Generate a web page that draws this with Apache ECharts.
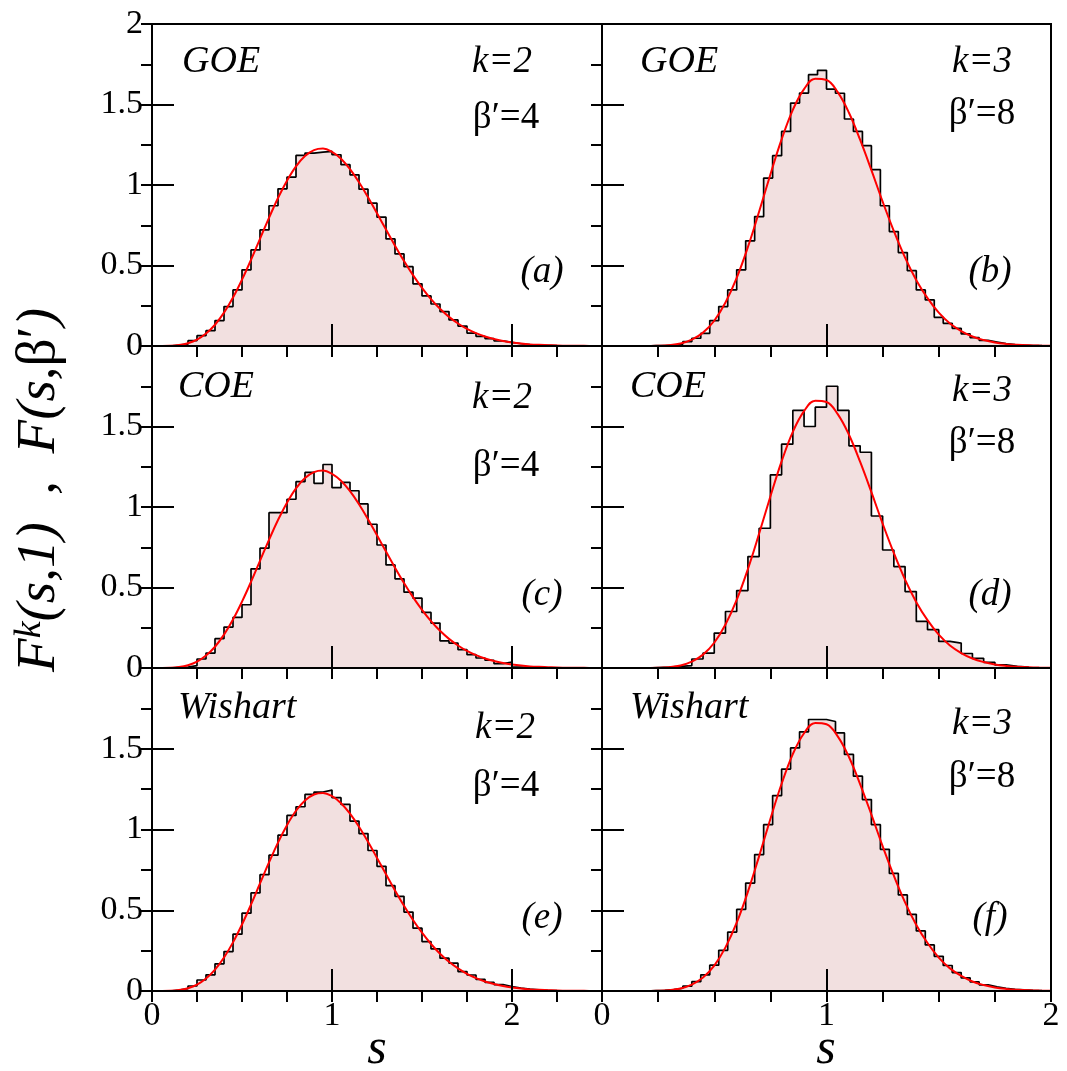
<!DOCTYPE html>
<html>
<head>
<meta charset="utf-8">
<script src="https://cdn.jsdelivr.net/npm/echarts@6/dist/echarts.min.js"></script>
<style>
  html, body { margin: 0; padding: 0; background: #fff; }
  #chart { width: 1067px; height: 1071px; }
</style>
</head>
<body>
<div id="chart"></div>
<script>
// histogram bins: first left edge, bin width, heights
const goeK2Start = 0.10, goeK2Width = 0.05;
const goeK2Hist = [0.005, 0.012, 0.033, 0.064, 0.095, 0.158, 0.245, 0.348, 0.473, 0.597, 0.721, 0.871, 0.976, 1.049,
  1.184, 1.198, 1.204, 1.209, 1.188, 1.126, 1.063, 0.974, 0.887, 0.800, 0.665, 0.572, 0.493, 0.386, 0.311, 0.261,
  0.214, 0.162, 0.124, 0.080, 0.060, 0.046, 0.032, 0.022, 0.014, 0.009, 0.006, 0.004, 0.002];

const goeK3Start = 0.20, goeK3Width = 0.04;
const goeK3Hist = [0.002, 0.003, 0.006, 0.012, 0.027, 0.048, 0.079, 0.158, 0.245, 0.348, 0.473, 0.653, 0.804, 1.043,
  1.182, 1.333, 1.509, 1.571, 1.685, 1.712, 1.596, 1.570, 1.410, 1.333, 1.244, 1.095, 0.871, 0.711, 0.580, 0.468,
  0.348, 0.286, 0.178, 0.141, 0.110, 0.075, 0.052, 0.035, 0.025, 0.015, 0.009, 0.005, 0.003, 0.002];

const coeK2Start = 0.10, coeK2Width = 0.05;
const coeK2Hist = [0.004, 0.006, 0.015, 0.056, 0.093, 0.182, 0.254, 0.314, 0.393, 0.616, 0.744, 0.965, 0.965, 1.048,
  1.157, 1.215, 1.147, 1.264, 1.120, 1.153, 1.101, 1.019, 0.893, 0.764, 0.640, 0.554, 0.471, 0.434, 0.345, 0.279,
  0.169, 0.155, 0.114, 0.083, 0.062, 0.048, 0.027, 0.037, 0.006, 0.003];

const coeK3Start = 0.20, coeK3Width = 0.05;
const coeK3Hist = [0.003, 0.006, 0.010, 0.015, 0.056, 0.093, 0.217, 0.351, 0.481, 0.692, 0.868, 1.200, 1.390, 1.600,
  1.500, 1.620, 1.750, 1.600, 1.380, 1.340, 0.944, 0.733, 0.630, 0.475, 0.289, 0.238, 0.165, 0.155, 0.090, 0.060,
  0.035, 0.020, 0.010, 0.005];

const wisK2Start = 0.10, wisK2Width = 0.05;
const wisK2Hist = [0.006, 0.015, 0.031, 0.068, 0.100, 0.168, 0.244, 0.352, 0.482, 0.607, 0.720, 0.841, 0.965, 1.087,
  1.141, 1.217, 1.232, 1.244, 1.197, 1.155, 1.052, 0.975, 0.870, 0.772, 0.652, 0.586, 0.489, 0.389, 0.306, 0.261,
  0.203, 0.172, 0.120, 0.099, 0.072, 0.054, 0.040, 0.028, 0.018, 0.012, 0.007, 0.004, 0.002];

const wisK3Start = 0.20, wisK3Width = 0.04;
const wisK3Hist = [0.002, 0.004, 0.008, 0.017, 0.030, 0.058, 0.100, 0.160, 0.252, 0.365, 0.505, 0.668, 0.845, 1.030,
  1.210, 1.374, 1.505, 1.605, 1.681, 1.681, 1.669, 1.598, 1.465, 1.330, 1.185, 1.030, 0.877, 0.728, 0.595, 0.475,
  0.372, 0.285, 0.215, 0.158, 0.114, 0.081, 0.056, 0.038, 0.026, 0.017, 0.011, 0.007, 0.004, 0.002];

// red curves F(s, beta')
const curveS4 = [0, 0.05, 0.1, 0.15, 0.2, 0.25, 0.3, 0.35, 0.4, 0.45, 0.5, 0.55, 0.6, 0.65, 0.7, 0.75, 0.8, 0.85, 0.9,
  0.95, 1.0, 1.05, 1.1, 1.15, 1.2, 1.25, 1.3, 1.35, 1.4, 1.45, 1.5, 1.55, 1.6, 1.65, 1.7, 1.75, 1.8, 1.85, 1.9, 1.95,
  2.0, 2.05, 2.1, 2.15, 2.2, 2.25, 2.3, 2.35, 2.4, 2.45, 2.5];
const curveF4 = [0, 0.0001, 0.0011, 0.0056, 0.017, 0.039, 0.077, 0.132, 0.207, 0.301, 0.412, 0.535, 0.666, 0.796, 0.919,
  1.027, 1.116, 1.180, 1.217, 1.226, 1.206, 1.163, 1.098, 1.017, 0.924, 0.824, 0.723, 0.623, 0.528, 0.440, 0.361,
  0.291, 0.231, 0.181, 0.140, 0.106, 0.080, 0.059, 0.043, 0.031, 0.022, 0.015, 0.010, 0.007, 0.005, 0.003, 0.002,
  0.001, 0.001, 0.0005, 0.0003];
const curveS8 = [0, 0.05, 0.1, 0.15, 0.2, 0.25, 0.3, 0.35, 0.4, 0.45, 0.5, 0.55, 0.6, 0.65, 0.7, 0.75, 0.8, 0.85, 0.9,
  0.95, 1.0, 1.05, 1.1, 1.15, 1.2, 1.25, 1.3, 1.35, 1.4, 1.45, 1.5, 1.55, 1.6, 1.65, 1.7, 1.75, 1.8, 1.85, 1.9, 1.95, 2.0];
const curveF8 = [0, 0, 0, 0, 0.0003, 0.0014, 0.0052, 0.0156, 0.039, 0.083, 0.157, 0.270, 0.423, 0.615, 0.835, 1.065,
  1.283, 1.467, 1.596, 1.660, 1.652, 1.577, 1.449, 1.280, 1.092, 0.897, 0.714, 0.549, 0.409, 0.297, 0.207, 0.140,
  0.093, 0.059, 0.037, 0.022, 0.013, 0.0075, 0.0042, 0.0023, 0.0012];

const xTicksLeft = [0, 1, 2];
const xTicksRight = [0, 1, 2];
const yTickLabels = ['0', '0.5', '1', '1.5', '2'];

const serif = "'Liberation Serif', 'Times New Roman', Times, serif";
const fillPink = '#f2e0e0';

function histData(start, width, vals) {
  const d = [[start, 0]];
  vals.forEach((v, i) => d.push([+(start + i * width).toFixed(3), v]));
  d.push([+(start + vals.length * width).toFixed(3), 0]);
  return d;
}
function curveData(xs, ys) {
  return xs.map((x, i) => [x, ys[i]]);
}

const panels = [
  { box: { left: 152, top: 24, width: 450, height: 322 }, xmax: 2.5, hist: histData(goeK2Start, goeK2Width, goeK2Hist), curve: curveData(curveS4, curveF4), yLab: true, top: true, xLab: false },
  { box: { left: 602, top: 24, width: 449, height: 322 }, xmax: 2, hist: histData(goeK3Start, goeK3Width, goeK3Hist), curve: curveData(curveS8, curveF8), yLab: false, top: true, xLab: false },
  { box: { left: 152, top: 346, width: 450, height: 322 }, xmax: 2.5, hist: histData(coeK2Start, coeK2Width, coeK2Hist), curve: curveData(curveS4, curveF4), yLab: true, top: false, xLab: false },
  { box: { left: 602, top: 346, width: 449, height: 322 }, xmax: 2, hist: histData(coeK3Start, coeK3Width, coeK3Hist), curve: curveData(curveS8, curveF8), yLab: false, top: false, xLab: false },
  { box: { left: 152, top: 668, width: 450, height: 323 }, xmax: 2.5, hist: histData(wisK2Start, wisK2Width, wisK2Hist), curve: curveData(curveS4, curveF4), yLab: true, top: false, xLab: true },
  { box: { left: 602, top: 668, width: 449, height: 323 }, xmax: 2, hist: histData(wisK3Start, wisK3Width, wisK3Hist), curve: curveData(curveS8, curveF8), yLab: false, top: false, xLab: true }
];

const grid = [], xAxis = [], yAxis = [], series = [];
const labelStyle = { fontFamily: serif, fontSize: 34, color: '#000' };

panels.forEach((p, i) => {
  grid.push(Object.assign({ show: true, borderColor: '#000', borderWidth: 2, backgroundColor: 'transparent' }, p.box));
  const xTicks = p.xmax === 2 ? xTicksRight : xTicksLeft;
  // main x axis: long ticks + labels
  xAxis.push({
    type: 'value', gridIndex: i, min: 0, max: p.xmax, interval: 1, z: 5,
    axisLine: { lineStyle: { color: '#000', width: 2 } },
    axisTick: { inside: true, length: 22, lineStyle: { color: '#000', width: 2 } },
    axisLabel: {
      show: p.xLab, margin: 8, ...labelStyle,
      formatter: v => (xTicks.indexOf(v) >= 0 ? String(v) : '')
    },
    splitLine: { show: false }
  });
  // minor x ticks every 0.25
  xAxis.push({
    type: 'value', gridIndex: i, min: 0, max: p.xmax, interval: 0.25, z: 5,
    axisLine: { show: false },
    axisTick: { inside: true, length: 11, lineStyle: { color: '#000', width: 2 } },
    axisLabel: { show: false },
    splitLine: { show: false }
  });
  yAxis.push({
    type: 'value', gridIndex: i, min: 0, max: 2, interval: 0.5, z: 5,
    axisLine: { lineStyle: { color: '#000', width: 2 } },
    axisTick: { inside: true, length: 22, lineStyle: { color: '#000', width: 2 } },
    axisLabel: {
      show: p.yLab, margin: 9, ...labelStyle,
      formatter: v => {
        if (v === 2 && !p.top) return '';
        return yTickLabels[Math.round(v * 2)];
      }
    },
    splitLine: { show: false }
  });
  yAxis.push({
    type: 'value', gridIndex: i, min: 0, max: 2, interval: 0.25, z: 5,
    axisLine: { show: false },
    axisTick: { inside: true, length: 11, lineStyle: { color: '#000', width: 2 } },
    axisLabel: { show: false },
    splitLine: { show: false }
  });
  series.push({
    type: 'line', xAxisIndex: 2 * i, yAxisIndex: 2 * i, step: 'end', symbol: 'none', z: 2,
    lineStyle: { color: '#000', width: 1.7 },
    areaStyle: { color: fillPink, opacity: 1 },
    data: p.hist, silent: true, animation: false
  });
  series.push({
    type: 'line', xAxisIndex: 2 * i, yAxisIndex: 2 * i, smooth: 0.4, symbol: 'none', z: 3,
    lineStyle: { color: '#ff0000', width: 2 },
    data: p.curve, silent: true, animation: false
  });
});

function txt(x, y, s, size, italic, align) {
  return {
    type: 'text', x: x, y: y, z: 20, silent: true,
    style: {
      text: s, fill: '#000', align: align || 'center', verticalAlign: 'middle',
      font: (italic ? 'italic ' : '') + size + 'px ' + serif
    }
  };
}

const graphic = [
  txt(182, 62, 'GOE', 38, true, 'left'), txt(502, 62, 'k=2', 37, true), txt(506, 118, 'β′=4', 37, false), txt(542, 272, '(a)', 37, true),
  txt(640, 62, 'GOE', 38, true, 'left'), txt(982, 62, 'k=3', 37, true), txt(982, 114, 'β′=8', 37, false), txt(990, 272, '(b)', 37, true),
  txt(178, 387, 'COE', 38, true, 'left'), txt(502, 398, 'k=2', 37, true), txt(506, 466, 'β′=4', 37, false), txt(542, 595, '(c)', 37, true),
  txt(630, 387, 'COE', 38, true, 'left'), txt(982, 391, 'k=3', 37, true), txt(982, 443, 'β′=8', 37, false), txt(990, 595, '(d)', 37, true),
  txt(178, 708, 'Wishart', 38, true, 'left'), txt(505, 728, 'k=2', 37, true), txt(506, 786, 'β′=4', 37, false), txt(542, 918, '(e)', 37, true),
  txt(630, 708, 'Wishart', 38, true, 'left'), txt(982, 724, 'k=3', 37, true), txt(982, 777, 'β′=8', 37, false), txt(990, 918, '(f)', 37, true),
  txt(377, 1050, 's', 50, true), txt(826, 1050, 's', 50, true),
  {
    type: 'text', x: 40, y: 490, rotation: Math.PI / 2, z: 20, silent: true,
    style: {
      text: '{i|F}{sup|k}{i|(s,1)  ,  F(s,}{u|β′}{i|)}',
      align: 'center', verticalAlign: 'middle', fill: '#000',
      rich: {
        i: { fontFamily: serif, fontStyle: 'italic', fontSize: 55, lineHeight: 58, fill: '#000' },
        u: { fontFamily: serif, fontSize: 55, lineHeight: 58, fill: '#000' },
        sup: { fontFamily: serif, fontStyle: 'italic', fontSize: 38, lineHeight: 58, verticalAlign: 'top', fill: '#000' }
      }
    }
  }
];

const chart = echarts.init(document.getElementById('chart'), null, { renderer: 'canvas' });
chart.setOption({
  backgroundColor: '#fff',
  animation: false,
  grid: grid,
  xAxis: xAxis,
  yAxis: yAxis,
  series: series,
  graphic: graphic
});
</script>
</body>
</html>
